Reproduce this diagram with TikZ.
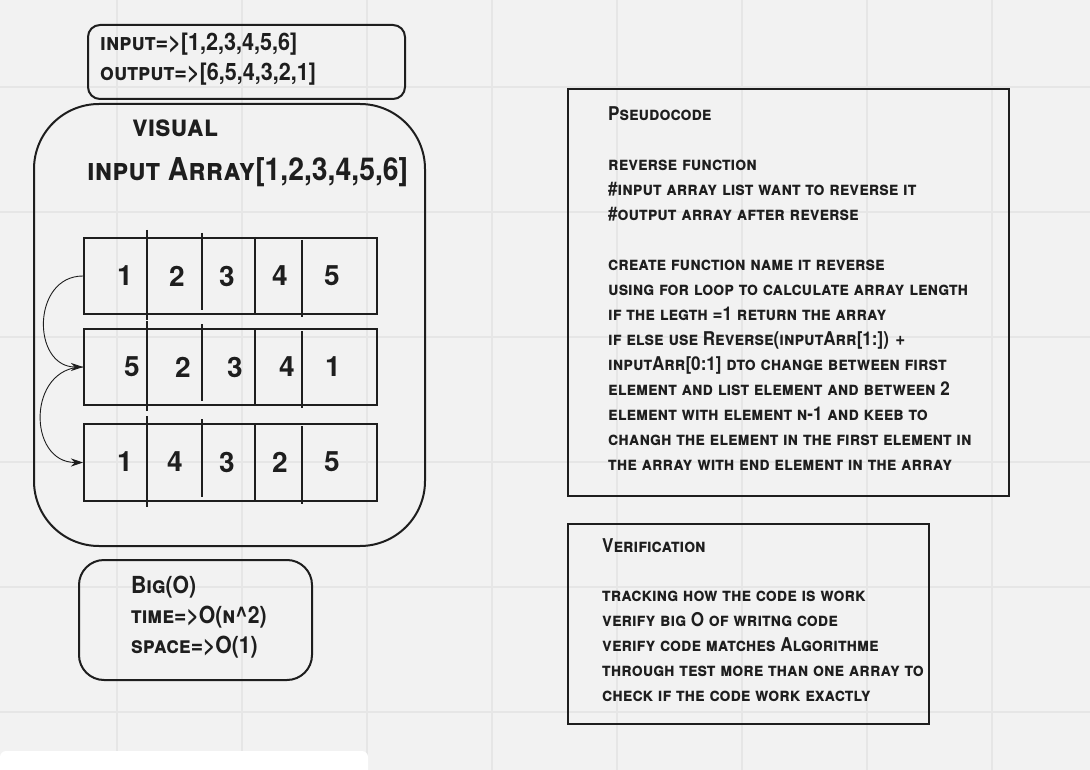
\documentclass[tikz,border=0pt]{standalone}
\usepackage{fontspec}
\newfontfamily\handfont{TeX Gyre Heros}[Letters=SmallCaps, FakeStretch=0.9]
\newfontfamily\digitfont{TeX Gyre Heros}
\usetikzlibrary{positioning,arrows.meta}
\definecolor{ink}{HTML}{1E1E1E}
\definecolor{paper}{HTML}{F2F2F2}
\definecolor{gridline}{HTML}{E6E6E6}
\newcommand{\handsize}[2]{\handfont\bfseries\fontsize{#1}{#2}\selectfont}
\tikzset{
    boxframe/.style = {rectangle, draw=ink, line width=2pt, inner sep=0pt},
    roundbox/.style = {boxframe, rounded corners=#1},
    cellrow/.style = {boxframe, minimum width=293pt, minimum height=76pt},
    divider/.style = {draw=ink, line width=1.2pt},
    digit/.style = {inner sep=0pt, text=ink, font=\digitfont\bfseries\fontsize{28}{28}\selectfont},
    handtext/.style = {inner sep=0pt, align=left, text=ink},
    arrow/.style = {ink, line width=0.9pt, ->, >={Stealth[length=12pt,width=8pt]}}
}

\begin{document}
\begin{tikzpicture}[x=1pt, y=-1pt]
% page and grid
\fill [paper] (0,0) rectangle (1090,770);
\useasboundingbox (0,0) rectangle (1090,770);
\foreach \x in {117,242,...,992} \draw [gridline, line width=1.5pt] (\x,0) -- (\x,770);
\foreach \y in {87,212,...,712} \draw [gridline, line width=1.5pt] (0,\y) -- (1090,\y);
\fill [white, rounded corners=6pt] (0,751) rectangle (368,790);

% input / output
\node (iobox) [roundbox=12pt, minimum width=317pt, minimum height=74pt, anchor=north west] at (87,24) {};
\node (iotext) [handtext, font=\handsize{24}{30}, below right=8.5pt and 13pt of iobox.north west] {input=>[1,2,3,4,5,6]\\output=>[6,5,4,3,2,1]};

% visual
\node (visualbox) [roundbox=65pt, minimum width=391pt, minimum height=442pt, anchor=north west] at (33,103) {};
\node (visualtitle) [handtext, font=\handsize{30.5}{30}, anchor=base west] at (132,137) {visual};
\node (arraytitle) [handtext, font=\handsize{31.5}{30}, anchor=base west] at (87,181) {input Array[1,2,3,4,5,6]};

\node (row1) [cellrow, anchor=north west] at (83,237) {};
\node (row2) [cellrow, below=13pt of row1] {};
\node (row3) [cellrow, minimum height=77pt, below=17pt of row2] {};

\foreach \t/\b in {237/313,328/404,423/500}
    \foreach \x/\p/\q in {147/-7/7,202/-4/-3,255/0/0,302/3/4}
        \draw [divider] (\x,\t+\p) -- (\x,\b+\q);

\foreach \d/\x [count=\i] in {1/125,2/177,3/227,4/280,5/332}
    \node (first\i) [digit] at (\x,276) {\d};
\foreach \d/\x [count=\i] in {5/132,2/183,3/235,4/287,1/333}
    \node (second\i) [digit] at (\x,367) {\d};
\foreach \d/\x [count=\i] in {1/125,4/175,3/227,2/280,5/332}
    \node (third\i) [digit] at (\x,462) {\d};

\draw [arrow] (row1.west) to [out=180, in=180, looseness=1.45] (row2.west);
\draw [arrow] (row2.west) to [out=180, in=180, looseness=1.5] (row3.west);

% big O
\node (bigo) [roundbox=25pt, minimum width=233pt, minimum height=120pt, anchor=north west] at (78,559) {};
\node (bigotext) [handtext, font=\handsize{23.5}{30}, below right=17pt and 53pt of bigo.north west] {Big(O)\\time=>O(n\textasciicircum 2)\\space=>O(1)};

% pseudocode
\node (pseudo) [boxframe, minimum width=441pt, minimum height=407pt, anchor=north west] at (567,88) {};
\node (pseudotext) [handtext, font=\handsize{19}{25}, below right=18pt and 41pt of pseudo.north west] {Pseudocode\\[25pt]
reverse function\\
\#input array list want to reverse it\\
\#output array after reverse\\[25pt]
create function name it reverse\\
using for loop to calculate array length\\
if the legth =1 return the array\\
if else use Reverse(inputArr[1:]) +\\
inputArr[0:1] dto change between first\\
element and list element and between 2\\
element with element n-1 and keeb to\\
changh the element in the first element in\\
the array with end element in the array};

% verification
\node (verify) [boxframe, minimum width=361pt, minimum height=200pt, anchor=north west] at (567,523) {};
\node (verifytext) [handtext, font=\handsize{19}{25}, below right=15pt and 35pt of verify.north west] {Verification\\[24pt]
tracking how the code is work\\
verify big O of writng code\\
verify code matches Algorithme\\
through test more than one array to\\
check if the code work exactly};
\end{tikzpicture}
\end{document}
